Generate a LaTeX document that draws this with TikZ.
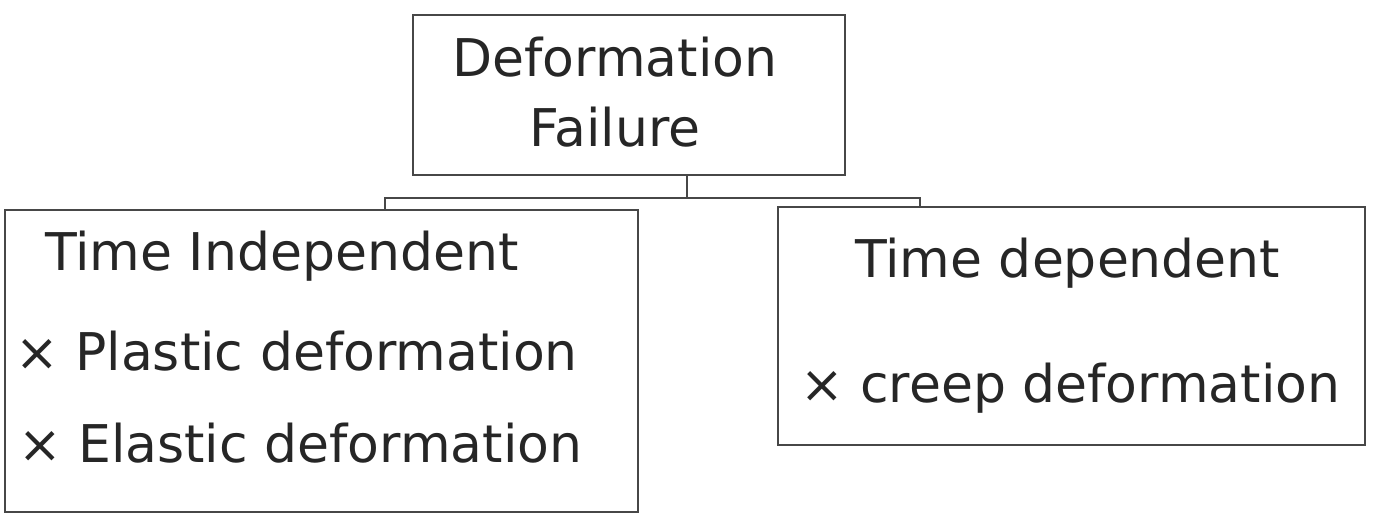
\documentclass[tikz,border=0pt]{standalone}
\usepackage{fontspec}
\setmainfont{DejaVu Sans}
\begin{document}
\begin{tikzpicture}[x=1pt,y=-1pt,
  box/.style={draw=black!72,line width=1.8pt,rectangle,inner sep=0pt},
  label/.style={text=black!85,font=\fontsize{52}{70}\selectfont,inner sep=0pt},
  wire/.style={draw=black!72,line width=1.8pt}]
  \useasboundingbox (0,0) rectangle (1378,516);
  % frames
  \node[box,minimum width=432pt,minimum height=160pt] (top) at (629,95) {};
  \node[box,minimum width=633pt,minimum height=302pt] (left) at (321.5,361) {};
  \node[box,minimum width=587pt,minimum height=238pt] (right) at (1071.5,326) {};
  % texts
  \node[label,align=center] (ttl) at (615,92) {Deformation\\Failure};
  \node[label,anchor=base west] (l1) at (45,270) {Time Independent};
  \node[label,anchor=base west] (l2) at (15,370) {× Plastic deformation};
  \node[label,anchor=base west] (l3) at (18,462) {× Elastic deformation};
  \node[label,anchor=base west] (r1) at (855,277) {Time dependent};
  \node[label,anchor=base west] (r2) at (800,402) {× creep deformation};
  % connectors
  \coordinate (j) at (687,198);
  \coordinate (bl) at (385,198);
  \coordinate (br) at (920,198);
  \draw[wire] (top.south -| j) -- (j);
  \draw[wire] (left.north -| bl) -- (bl) -- (br) -- (right.north -| br);
\end{tikzpicture}
\end{document}
